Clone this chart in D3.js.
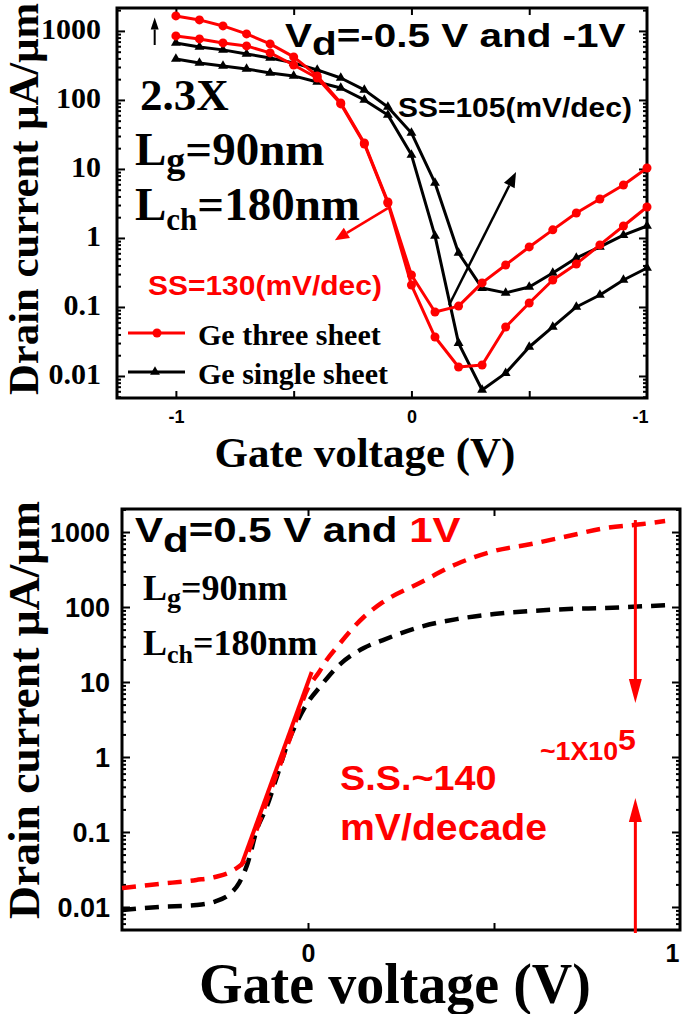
<!DOCTYPE html>
<html>
<head>
<meta charset="utf-8">
<script src="https://cdn.jsdelivr.net/npm/d3@7"></script>
<style>
	body { margin: 0; background: #fff; }
	svg { display: block; }
</style>
</head>
<body>
<svg id="fig" width="685" height="1014"></svg>
<script>
/**
 * Top panel data: Id-Vg at Vd = -0.5 V and -1 V
 */
let vgTop = [-1.0, -0.9, -0.8, -0.7, -0.6, -0.5, -0.4, -0.3, -0.2, -0.1, 0.0, 0.1, 0.2, 0.3, 0.4, 0.5, 0.6, 0.7, 0.8, 0.9, 1.0];
let threeSheetHi = [1650, 1443, 1181, 905, 648, 420, 223, 90.6, 23.8, 3.33, 0.291, 0.0847, 0.103, 0.223, 0.406, 0.741, 1.31, 2.30, 3.67, 5.86, 10.3];
let threeSheetLo = [846, 766, 670, 606, 480, 321, 208, 87.5, 23.0, 3.21, 0.208, 0.0367, 0.0135, 0.0144, 0.0513, 0.114, 0.246, 0.420, 0.793, 1.49, 2.81];
let singleSheetHi = [670, 586, 531, 464, 406, 344, 272, 208, 140, 79.2, 33.3, 6.27, 0.607, 0.188, 0.160, 0.195, 0.311, 0.513, 0.741, 1.10, 1.49];
let singleSheetLo = [393, 344, 311, 281, 246, 223, 182, 149, 100, 60.6, 16.0, 1.07, 0.030, 0.00627, 0.0110, 0.0263, 0.0513, 0.100, 0.149, 0.246, 0.367];

let topYTicks = [1000, 100, 10, 1, 0.1, 0.01];
let topYLabels = ["1000", "100", "10", "1", "0.1", "0.01"];
let topXTicks = [-1, 0, 1];
let topXLabels = ["-1", "0", "-1"];

/**
 * Bottom panel data: Id-Vg at Vd = 0.5 V and 1 V
 */
let vg1V = [-0.5, -0.4, -0.3, -0.25, -0.2, -0.17, -0.15, -0.1, -0.05, 0.0, 0.03, 0.05, 0.08, 0.15, 0.2, 0.3, 0.4, 0.5, 0.6, 0.7, 0.8, 0.9, 0.96];
let id1V = [0.0179, 0.0203, 0.0229, 0.0251, 0.0311, 0.042, 0.075, 0.363, 1.69, 8.3, 13.6, 19.6, 30.2, 73.6, 115, 209, 375, 558, 692, 885, 1130, 1280, 1400];
let vg05V = [-0.5, -0.4, -0.3, -0.25, -0.21, -0.185, -0.162, -0.138, -0.111, -0.084, -0.055, -0.03, 0.0, 0.032, 0.078, 0.15, 0.2, 0.3, 0.4, 0.5, 0.6, 0.7, 0.8, 0.96];
let id05V = [0.0091, 0.0100, 0.0106, 0.0118, 0.0149, 0.021, 0.0386, 0.106, 0.216, 0.54, 1.5, 2.9, 5.4, 8.6, 15.8, 28.4, 36, 54, 69, 80.7, 88.5, 94, 97, 106];
let ssFitVg = [-0.18, 0.01];
let ssFitId = [0.035, 13.6];

let botYTicks = [1000, 100, 10, 1, 0.1, 0.01];
let botYLabels = ["1000", "100", "10", "1", "0.1", "0.01"];
let botXTicks = [0, 1];
let botXLabels = ["0", "1"];

const SERIF = "'Liberation Serif','Times New Roman',serif";
const SANS = "'Liberation Sans',Arial,sans-serif";
const RED = "#ff0000";

let svg = d3.select("#fig");

// text with sub/superscript parts, optional horizontal stretch
function rich(g, x, y, parts, o) {
	let t = g.append("text")
		.attr("transform", "translate(" + x + "," + y + ") scale(" + (o.sx || 1) + ",1)")
		.attr("font-family", o.font)
		.attr("font-weight", "bold")
		.attr("font-size", o.size)
		.attr("fill", o.fill || "#000")
		.attr("text-anchor", o.anchor || "start");
	let shift = 0;
	parts.forEach(function(p) {
		let s = p.dy || 0;
		t.append("tspan")
			.attr("dy", s - shift)
			.attr("font-size", p.size || null)
			.attr("fill", p.fill || null)
			.text(p.t);
		shift = s;
	});
	return t;
}

function arrow(g, x1, y1, x2, y2, c, w, hl, hw) {
	let a = Math.atan2(y2 - y1, x2 - x1);
	let bx = x2 - hl * Math.cos(a), by = y2 - hl * Math.sin(a);
	g.append("line").attr("x1", x1).attr("y1", y1).attr("x2", bx).attr("y2", by)
		.attr("stroke", c).attr("stroke-width", w);
	let px = -Math.sin(a) * hw / 2, py = Math.cos(a) * hw / 2;
	g.append("path")
		.attr("d", "M" + x2 + "," + y2 + "L" + (bx + px) + "," + (by + py) + "L" + (bx - px) + "," + (by - py) + "Z")
		.attr("fill", c);
}

function styleAxis(sel) {
	sel.select(".domain").remove();
	sel.selectAll(".tick line").attr("stroke", "#000").attr("stroke-width", 2);
}

// frame with inward major/minor ticks on all four sides
function frameAxes(g, x, y, o) {
	let x0 = x.range()[0], x1 = x.range()[1];
	let y0 = y.range()[0], y1 = y.range()[1];
	let minor = y.ticks().filter(function(v) {
		let l = Math.log10(v);
		return Math.abs(l - Math.round(l)) > 1e-6;
	});

	g.append("g").attr("transform", "translate(" + x0 + ",0)")
		.call(d3.axisLeft(y).tickValues(minor).tickSize(-4).tickFormat("")).call(styleAxis);
	g.append("g").attr("transform", "translate(" + x1 + ",0)")
		.call(d3.axisRight(y).tickValues(minor).tickSize(-4).tickFormat("")).call(styleAxis);
	g.append("g").attr("transform", "translate(" + x1 + ",0)")
		.call(d3.axisRight(y).tickValues(o.yTicks).tickSize(-8).tickFormat("")).call(styleAxis);
	g.append("g").attr("transform", "translate(0," + y0 + ")")
		.call(d3.axisBottom(x).tickValues(o.xMajor).tickSize(-7).tickFormat("")).call(styleAxis);
	g.append("g").attr("transform", "translate(0," + y1 + ")")
		.call(d3.axisTop(x).tickValues(o.xMajor).tickSize(-7).tickFormat("")).call(styleAxis);

	// left axis with labels
	let left = g.append("g").attr("transform", "translate(" + x0 + ",0)")
		.call(d3.axisLeft(y).tickValues(o.yTicks).tickSize(-8).tickPadding(o.yPad)
			.tickFormat(function(d, i) { return o.yLabels[i]; }))
		.call(styleAxis);
	left.selectAll("text").attr("font-family", o.yFont).attr("font-weight", "bold")
		.attr("font-size", o.ySize).attr("fill", "#000").attr("dy", o.yDy);

	// bottom axis labels
	let bottom = g.append("g").attr("transform", "translate(0," + y0 + ")")
		.call(d3.axisBottom(x).tickValues(o.xTicks).tickSize(0).tickPadding(o.xPad)
			.tickFormat(function(d, i) { return o.xLabels[i]; }));
	bottom.select(".domain").remove();
	bottom.selectAll("text").attr("font-family", SANS).attr("font-weight", "bold")
		.attr("font-size", o.xSize).attr("fill", "#000")
		.attr("dx", function(d) { return d === x.domain()[1] ? o.lastDx : 0; });

	g.append("rect").attr("x", x0).attr("y", y1).attr("width", x1 - x0).attr("height", y0 - y1)
		.attr("fill", "none").attr("stroke", "#000").attr("stroke-width", 3);
}

/**
 * Top panel
 */
let topG = svg.append("g").attr("class", "topPanel");
let xT = d3.scaleLinear().domain([-1.25, 1.0]).range([117, 647]);
let yT = d3.scaleLog().domain([Math.pow(10, -2.319), Math.pow(10, 3.332)]).range([398, 8]);

frameAxes(topG, xT, yT, {
	yTicks: topYTicks, yLabels: topYLabels, yPad: 16, yFont: SERIF, ySize: 30, yDy: "0.25em",
	xMajor: [-1, -0.5, 0, 0.5], xTicks: topXTicks, xLabels: topXLabels, xPad: 12, xSize: 18, lastDx: -7
});

let topSeries = [
	{ values: singleSheetLo, color: "#000", marker: "tri" },
	{ values: singleSheetHi, color: "#000", marker: "tri" },
	{ values: threeSheetLo, color: RED, marker: "dot" },
	{ values: threeSheetHi, color: RED, marker: "dot" }
];

let lineT = d3.line()
	.x(function(d) { return xT(d[0]); })
	.y(function(d) { return yT(d[1]); });

let tri = d3.symbol().type(d3.symbolTriangle).size(42);

topSeries.forEach(function(s) {
	let pts = vgTop.map(function(v, i) { return [v, s.values[i]]; });
	let wrap = topG.append("g");
	wrap.append("path").attr("d", lineT(pts)).attr("fill", "none")
		.attr("stroke", s.color).attr("stroke-width", 3).attr("stroke-linejoin", "round");
	if (s.marker === "dot") {
		wrap.selectAll("circle").data(pts).enter().append("circle")
			.attr("cx", function(d) { return xT(d[0]); })
			.attr("cy", function(d) { return yT(d[1]); })
			.attr("r", 4.5).attr("fill", s.color);
	} else {
		wrap.selectAll("path.m").data(pts).enter().append("path").attr("class", "m")
			.attr("d", tri)
			.attr("transform", function(d) { return "translate(" + xT(d[0]) + "," + yT(d[1]) + ")"; })
			.attr("fill", s.color);
	}
});

// annotation arrows (data coordinates)
let topArrows = [
	{ from: [-1.09, 625], to: [-1.09, 1560], color: "#000", w: 2, hl: 12, hw: 8 },
	{ from: [-0.1, 2.7], to: [-0.325, 0.93], color: RED, w: 2.5, hl: 14, hw: 12 },
	{ from: [0.16, 0.107], to: [0.444, 9.0], color: "#000", w: 2.5, hl: 15, hw: 12 }
];
topArrows.forEach(function(a) {
	arrow(topG, xT(a.from[0]), yT(a.from[1]), xT(a.to[0]), yT(a.to[1]), a.color, a.w, a.hl, a.hw);
});

// legend
let legend = topG.append("g").attr("class", "legend");
[{ label: "Ge three sheet", color: RED, marker: "dot", y: 333 },
 { label: "Ge single sheet", color: "#000", marker: "tri", y: 372 }].forEach(function(l) {
	legend.append("line").attr("x1", 128).attr("x2", 185).attr("y1", l.y).attr("y2", l.y)
		.attr("stroke", l.color).attr("stroke-width", 3);
	if (l.marker === "dot") {
		legend.append("circle").attr("cx", 157).attr("cy", l.y).attr("r", 4.5).attr("fill", l.color);
	} else {
		legend.append("path").attr("d", tri).attr("transform", "translate(155," + l.y + ")").attr("fill", l.color);
	}
	rich(legend, 198, l.y + 12, [{ t: l.label }], { font: SERIF, size: 30 });
});

// labels
rich(topG, 285, 47, [{ t: "V" }, { t: "d", dy: 8 }, { t: "=-0.5 V and -1V" }], { font: SANS, size: 34, sx: 1.19 });
rich(topG, 140, 110, [{ t: "2.3X" }], { font: SERIF, size: 45 });
rich(topG, 135, 165, [{ t: "L" }, { t: "g", size: 38, dy: 8 }, { t: "=90nm" }], { font: SERIF, size: 47 });
rich(topG, 135, 220, [{ t: "L" }, { t: "ch", size: 31, dy: 10 }, { t: "=180nm" }], { font: SERIF, size: 47 });
rich(topG, 398, 117, [{ t: "SS=105(mV/dec)" }], { font: SANS, size: 28, sx: 1.07 });
rich(topG, 148, 295, [{ t: "SS=130(mV/dec)" }], { font: SANS, size: 28, sx: 1.07, fill: RED });

topG.append("text").attr("transform", "translate(38,199) rotate(-90)")
	.attr("text-anchor", "middle").attr("font-family", SERIF).attr("font-weight", "bold")
	.attr("font-size", 42).attr("textLength", 392).attr("lengthAdjust", "spacingAndGlyphs")
	.text("Drain current \u03bcA/\u03bcm");
topG.append("text").attr("x", 365).attr("y", 467)
	.attr("text-anchor", "middle").attr("font-family", SERIF).attr("font-weight", "bold")
	.attr("font-size", 43).text("Gate voltage (V)");

/**
 * Bottom panel
 */
let botG = svg.append("g").attr("class", "bottomPanel");
let xB = d3.scaleLinear().domain([-0.5, 1.0]).range([122, 680]);
let yB = d3.scaleLog().domain([Math.pow(10, -2.307), Math.pow(10, 3.307)]).range([930, 509]);

frameAxes(botG, xB, yB, {
	yTicks: botYTicks, yLabels: botYLabels, yPad: 12, yFont: SANS, ySize: 27, yDy: "0.36em",
	xMajor: [0, 0.5], xTicks: botXTicks, xLabels: botXLabels, xPad: 14, xSize: 25, lastDx: -8
});

let lineB = d3.line().curve(d3.curveMonotoneX)
	.x(function(d) { return xB(d[0]); })
	.y(function(d) { return yB(d[1]); });

[{ vg: vg05V, id: id05V, color: "#000" }, { vg: vg1V, id: id1V, color: RED }].forEach(function(s) {
	let pts = s.vg.map(function(v, i) { return [v, s.id[i]]; });
	botG.append("path").attr("d", lineB(pts)).attr("fill", "none")
		.attr("stroke", s.color).attr("stroke-width", 4.5).attr("stroke-dasharray", "14,9");
});

botG.append("path")
	.attr("d", d3.line().x(function(d) { return xB(d[0]); }).y(function(d) { return yB(d[1]); })(ssFitVg.map(function(v, i) { return [v, ssFitId[i]]; })))
	.attr("fill", "none").attr("stroke", RED).attr("stroke-width", 4);

let botArrows = [
	{ from: [0.88, 1445], to: [0.88, 5.25] },
	{ from: [0.88, 0.0045], to: [0.88, 0.284] }
];
botArrows.forEach(function(a) {
	arrow(botG, xB(a.from[0]), yB(a.from[1]), xB(a.to[0]), yB(a.to[1]), RED, 3, 24, 13);
});

rich(botG, 135, 542, [{ t: "V" }, { t: "d", dy: 10 }, { t: "=0.5 V and " }, { t: "1V", fill: RED }], { font: SANS, size: 35, sx: 1.2 });
rich(botG, 143, 600, [{ t: "L" }, { t: "g", size: 28, dy: 7 }, { t: "=90nm" }], { font: SERIF, size: 36 });
rich(botG, 143, 655, [{ t: "L" }, { t: "ch", size: 26, dy: 8 }, { t: "=180nm" }], { font: SERIF, size: 36 });
rich(botG, 340, 790, [{ t: "S.S.~140" }], { font: SANS, size: 35, sx: 1.08, fill: RED });
rich(botG, 340, 840, [{ t: "mV/decade" }], { font: SANS, size: 37, sx: 1.06, fill: RED });
rich(botG, 540, 760, [{ t: "~1X10" }, { t: "5", size: 30, dy: -10 }], { font: SANS, size: 25, sx: 1.07, fill: RED });

botG.append("text").attr("transform", "translate(39,710) rotate(-90)")
	.attr("text-anchor", "middle").attr("font-family", SERIF).attr("font-weight", "bold")
	.attr("font-size", 43.5).attr("textLength", 418).attr("lengthAdjust", "spacingAndGlyphs")
	.text("Drain current \u03bcA/\u03bcm");
botG.append("text").attr("x", 395).attr("y", 1003)
	.attr("text-anchor", "middle").attr("font-family", SERIF).attr("font-weight", "bold")
	.attr("font-size", 56).text("Gate voltage (V)");
</script>
</body>
</html>
